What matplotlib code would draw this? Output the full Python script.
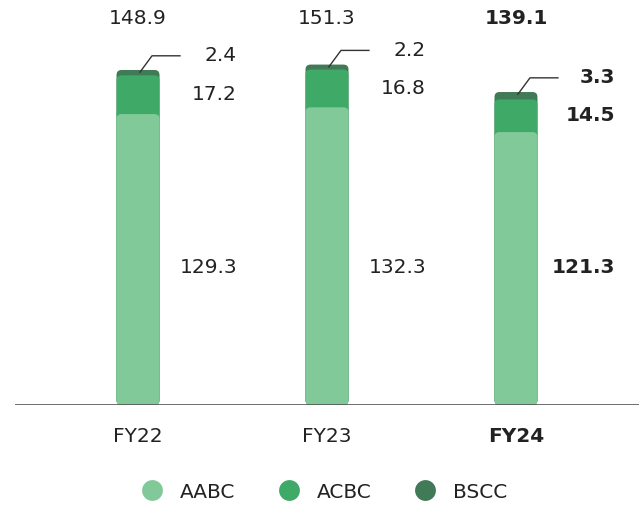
import matplotlib.pyplot as plt
from matplotlib.patches import FancyBboxPatch
from matplotlib.lines import Line2D

years = ["FY22", "FY23", "FY24"]
aabc = [129.3, 132.3, 121.3]
acbc = [17.2, 16.8, 14.5]
bscc = [2.4, 2.2, 3.3]
totals = [148.9, 151.3, 139.1]

colors = {"AABC": "#82c99a", "ACBC": "#3fa968", "BSCC": "#417a56"}
txt = "#222222"

plt.rcParams['font.family'] = ['DejaVu Sans']

fig = plt.figure(figsize=(6.39, 5.05), dpi=100)
ax = fig.add_axes([15 / 639, 100 / 505, 624 / 639, 405 / 505])
ax.set_xlim(-0.651, 2.651)
ax.set_ylim(0, 180)

w = 43 / 189
rs = 5 / 189
asp = (1 / 2.25) / (1 / 189)

for i, yr in enumerate(years):
    weight = "bold" if i == 2 else "normal"
    # stacked as overlapping rounded bars, top segment drawn first
    stacks = [(totals[i], colors["BSCC"]),
              (aabc[i] + acbc[i], colors["ACBC"]),
              (aabc[i], colors["AABC"])]
    for h, c in stacks:
        p = FancyBboxPatch((i - w / 2, 0), w, h,
                           boxstyle=f"round,pad=0,rounding_size={rs}",
                           mutation_aspect=asp, fc=c, ec="none")
        ax.add_patch(p)

    # labels
    ax.text(i, 172, f"{totals[i]:.1f}", ha="center", va="center",
            fontsize=14.5, color=txt, fontweight=weight)
    ax.text(i + 0.524, 61, f"{aabc[i]:.1f}", ha="right", va="center",
            fontsize=14.5, color=txt, fontweight=weight)
    ax.text(i + 0.524, aabc[i] + acbc[i] / 2, f"{acbc[i]:.1f}", ha="right",
            va="center", fontsize=14.5, color=txt, fontweight=weight)
    ly = totals[i] + 6.3
    ax.plot([i + 0.01, i + 0.074, i + 0.222], [totals[i] - 1, ly, ly],
            color="#333333", lw=1)
    ax.text(i + 0.524, ly, f"{bscc[i]:.1f}", ha="right", va="center",
            fontsize=14.5, color=txt, fontweight=weight)

    ax.text(i, -14, yr, ha="center", va="center", fontsize=14.5, color=txt,
            fontweight=weight)

ax.axhline(0, color="#555555", lw=1.2)
for s in ax.spines.values():
    s.set_visible(False)
ax.set_xticks([])
ax.set_yticks([])
ax.patch.set_alpha(0)

handles = [Line2D([], [], marker="o", ls="none", ms=15, mfc=c, mec="none")
           for c in colors.values()]
fig.legend(handles, list(colors.keys()), loc="center",
           bbox_to_anchor=(0.50, 1 - 492 / 505), ncol=3, frameon=False,
           fontsize=14.5, handletextpad=0.4, columnspacing=1.65,
           labelcolor=txt)

fig.savefig("out.png", dpi=100)
